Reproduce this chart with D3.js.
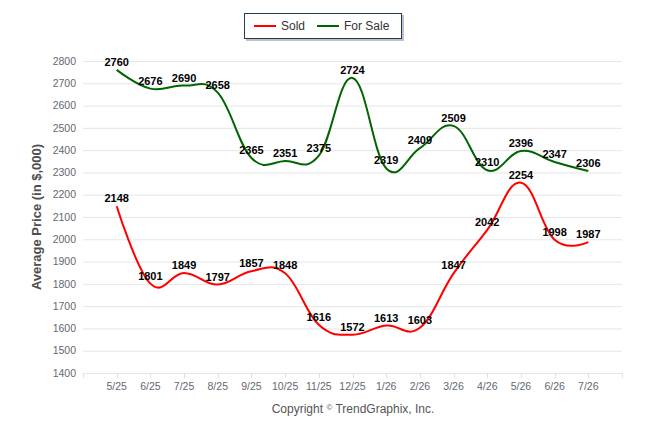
<!DOCTYPE html>
<html>
<head>
<meta charset="utf-8">
<script src="https://cdn.jsdelivr.net/npm/d3@7"></script>
<style>
  body { margin: 0; background: #fff; }
  #chart { width: 646px; height: 434px; }
</style>
</head>
<body>
<div id="chart"></div>
<script>
const months = ["5/25", "6/25", "7/25", "8/25", "9/25", "10/25", "11/25", "12/25",
                "1/26", "2/26", "3/26", "4/26", "5/26", "6/26", "7/26"];
const soldValues = [2148, 1801, 1849, 1797, 1857, 1848, 1616, 1572, 1613, 1603, 1847, 2042, 2254, 1998, 1987];
const forSaleValues = [2760, 2676, 2690, 2658, 2365, 2351, 2375, 2724, 2319, 2409, 2509, 2310, 2396, 2347, 2306];
const yTicks = [1400, 1500, 1600, 1700, 1800, 1900, 2000, 2100, 2200, 2300, 2400, 2500, 2600, 2700, 2800];

const series = [
    { name: "Sold", values: soldValues, color: "#ff0000" },
    { name: "For Sale", values: forSaleValues, color: "#006400" }
];

const width = 646;
const height = 434;
const tickFont = "'Liberation Sans Narrow', 'Liberation Sans', Arial, sans-serif";
const mainFont = "'Liberation Sans', Arial, sans-serif";

const svg = d3.select("#chart")
    .append("svg")
    .attr("width", width)
    .attr("height", height);

// one slot of padding on each side of the categories
const x = d3.scaleLinear()
    .domain([-1, months.length])
    .range([83, 622]);

const y = d3.scaleLinear()
    .domain([1400, 2800])
    .range([373, 61]);

// Gridlines
svg.append("g")
    .selectAll("line")
    .data(yTicks)
    .join("line")
    .attr("x1", x.range()[0])
    .attr("x2", x.range()[1])
    .attr("y1", d => y(d) + 0.5)
    .attr("y2", d => y(d) + 0.5)
    .attr("stroke", "#e6e6e6")
    .attr("stroke-width", 1);

// Y tick labels
svg.append("g")
    .selectAll("text")
    .data(yTicks)
    .join("text")
    .attr("x", 76)
    .attr("y", d => y(d))
    .attr("dy", "0.35em")
    .attr("text-anchor", "end")
    .attr("font-family", tickFont)
    .attr("font-size", "10.5px")
    .attr("fill", "#636872")
    .text(d => d);

// X axis ticks (one at each category plus both edges)
svg.append("g")
    .selectAll("line")
    .data(d3.range(-1, months.length + 1))
    .join("line")
    .attr("x1", d => Math.round(x(d)) + 0.5)
    .attr("x2", d => Math.round(x(d)) + 0.5)
    .attr("y1", y(1400))
    .attr("y2", y(1400) + 5)
    .attr("stroke", "#e0e0e0");

svg.append("g")
    .selectAll("text")
    .data(months)
    .join("text")
    .attr("x", (d, i) => x(i))
    .attr("y", 386)
    .attr("dy", "0.35em")
    .attr("text-anchor", "middle")
    .attr("font-family", tickFont)
    .attr("font-size", "10.5px")
    .attr("fill", "#636872")
    .text(d => d);

// Axis title
svg.append("text")
    .attr("transform", `translate(41,${(y(1400) + y(2800)) / 2}) rotate(-90)`)
    .attr("text-anchor", "middle")
    .attr("font-family", mainFont)
    .attr("font-size", "13px")
    .attr("font-weight", "bold")
    .attr("fill", "#4d4d4d")
    .text("Average Price (in $,000)");

// Lines - loose cardinal spline, it overshoots a bit like the original
const line = d3.line()
    .x((d, i) => x(i))
    .y(d => y(d))
    .curve(d3.curveCardinal.tension(-0.2));

svg.append("g")
    .selectAll("path")
    .data(series)
    .join("path")
    .attr("d", d => line(d.values))
    .attr("fill", "none")
    .attr("stroke", d => d.color)
    .attr("stroke-width", 2)
    .attr("stroke-linejoin", "round");

// Data labels
series.forEach(s => {
    svg.append("g")
        .selectAll("text")
        .data(s.values)
        .join("text")
        .attr("x", (d, i) => x(i))
        .attr("y", d => y(d) - 4)
        .attr("text-anchor", "middle")
        .attr("font-family", mainFont)
        .attr("font-size", "11px")
        .attr("font-weight", "bold")
        .attr("fill", "#000")
        .text(d => d);
});

// Legend
const legend = svg.append("g").attr("transform", "translate(244,13)");
legend.append("rect")
    .attr("x", 2).attr("y", 2)
    .attr("width", 158).attr("height", 26)
    .attr("fill", "#9a9a9a")
    .attr("opacity", 0.6);
legend.append("rect")
    .attr("x", 0.5).attr("y", 0.5)
    .attr("width", 157).attr("height", 25)
    .attr("fill", "#fff")
    .attr("stroke", "#1f3864")
    .attr("stroke-width", 1);

const legendOffsets = [10, 73];
const items = legend.selectAll(".item")
    .data(series)
    .join("g")
    .attr("class", "item")
    .attr("transform", (d, i) => `translate(${legendOffsets[i]},13)`);
items.append("line")
    .attr("x1", 0).attr("x2", 22)
    .attr("stroke", d => d.color)
    .attr("stroke-width", 2);
items.append("text")
    .attr("x", 27)
    .attr("dy", "0.35em")
    .attr("font-family", mainFont)
    .attr("font-size", "12px")
    .attr("fill", "#333")
    .text(d => d.name);

// Credit
const credit = svg.append("text")
    .attr("x", 353)
    .attr("y", 413)
    .attr("text-anchor", "middle")
    .attr("font-family", mainFont)
    .attr("font-size", "12px")
    .attr("fill", "#555");
credit.append("tspan").text("Copyright ");
credit.append("tspan").attr("font-size", "8px").attr("dy", "-3").text("©");
credit.append("tspan").attr("dy", "3").text(" TrendGraphix, Inc.");
</script>
</body>
</html>
